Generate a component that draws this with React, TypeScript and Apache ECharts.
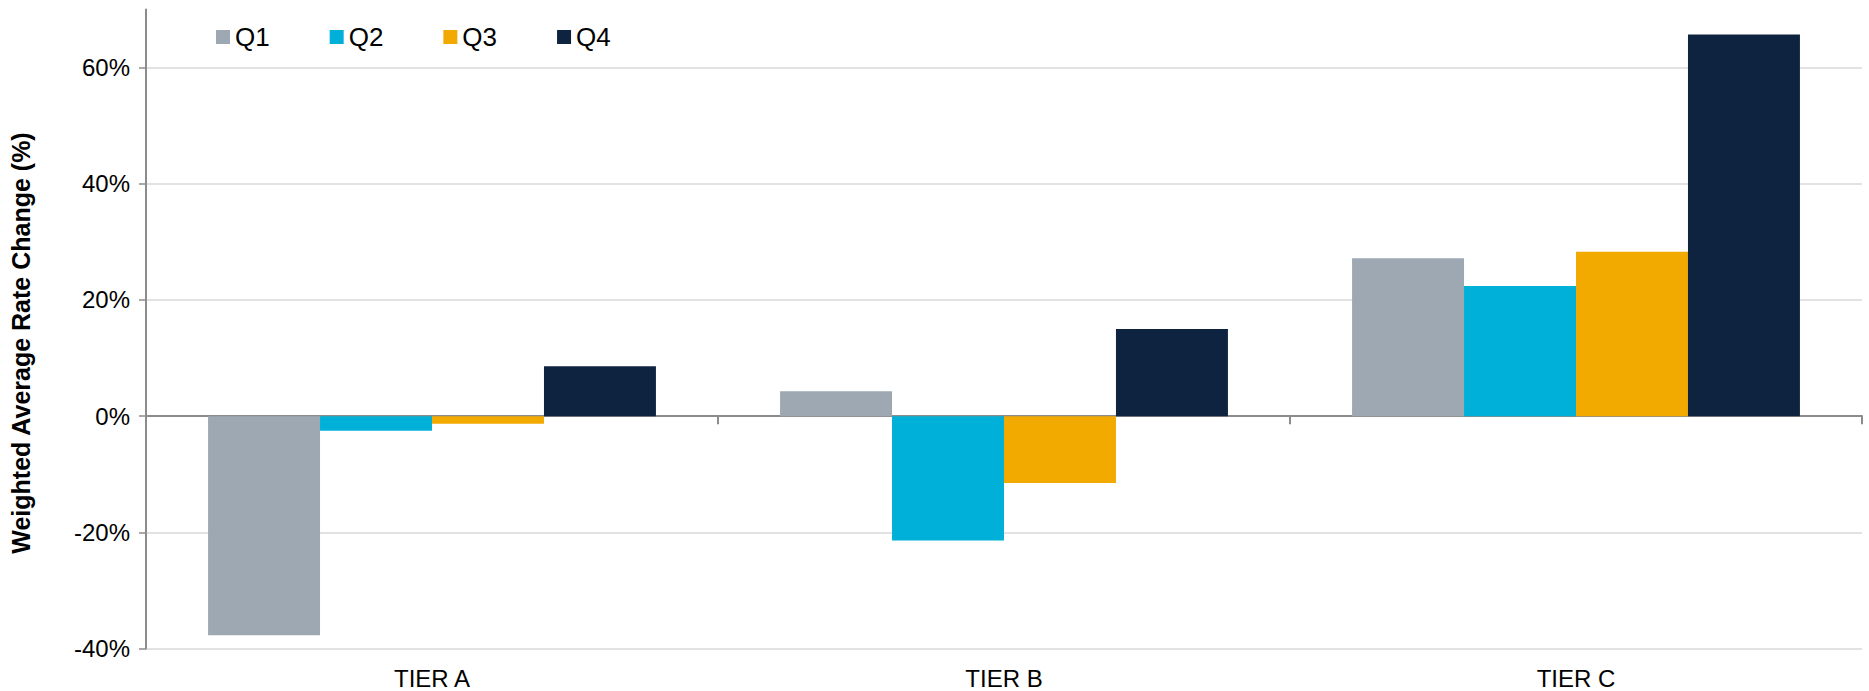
import React, { useEffect, useRef } from "react";
import * as echarts from "echarts";

const categories = ["TIER A", "TIER B", "TIER C"];
const seriesNames = ["Q1", "Q2", "Q3", "Q4"];
const q1 = [-37.7, 4.3, 27.2];
const q2 = [-2.5, -21.4, 22.4];
const q3 = [-1.3, -11.5, 28.3];
const q4 = [8.6, 15.0, 65.7];
const colors = ["#9ea8b2", "#00b0d8", "#f2a900", "#0e2340"];
const yTitle = "Weighted Average Rate Change (%)";

const FONT = "'Liberation Sans', Arial, sans-serif";

export default function App() {
  const ref = useRef<HTMLDivElement>(null);
  useEffect(() => {
    document.body.style.margin = "0";
    if (!ref.current) return;
    const chart = echarts.init(ref.current, undefined, { renderer: "svg" });
    const values = [q1, q2, q3, q4];
    chart.setOption({
      animation: false,
      backgroundColor: "#ffffff",
      textStyle: { fontFamily: FONT },
      grid: { left: 146, right: 7, top: 9.5, bottom: 42.5, containLabel: false },
      legend: {
        left: 216,
        top: 24,
        padding: 0,
        itemWidth: 14,
        itemHeight: 14,
        itemGap: 60,
        icon: "rect",
        textStyle: { fontSize: 26, color: "#000", fontFamily: FONT },
        data: seriesNames,
      },
      xAxis: [
        {
          type: "category",
          data: categories,
          position: "bottom",
          axisLine: { onZero: true, lineStyle: { color: "#8c8c8c", width: 2 } },
          axisTick: { show: true, length: 8, lineStyle: { color: "#8c8c8c", width: 2 } },
          axisLabel: { show: false },
          splitLine: { show: false },
        },
        {
          type: "category",
          data: categories,
          position: "bottom",
          axisLine: { show: false, onZero: false },
          axisTick: { show: false },
          axisLabel: { show: true, margin: 18, fontSize: 24, color: "#000", fontFamily: FONT },
          splitLine: { show: false },
        },
      ],
      yAxis: {
        type: "value",
        min: -40,
        max: 70,
        interval: 20,
        axisLine: { show: true, lineStyle: { color: "#8c8c8c", width: 2 } },
        axisTick: { show: true, length: 7, lineStyle: { color: "#8c8c8c", width: 1.5 } },
        axisLabel: {
          margin: 16,
          fontSize: 24,
          color: "#000",
          fontFamily: FONT,
          showMaxLabel: false,
          formatter: (v: number) => (v === 70 ? "" : `${v}%`),
        },
        splitLine: { show: true, showMaxLine: false, lineStyle: { color: "#d9d9d9", width: 1.5 } },
      },
      graphic: [
        {
          type: "text",
          x: 21,
          y: 343,
          rotation: Math.PI / 2,
          style: {
            text: yTitle,
            font: `bold 25px ${FONT}`,
            fill: "#000",
            textAlign: "center",
            textVerticalAlign: "middle",
          },
        },
      ],
      series: seriesNames.map((name, i) => ({
        name,
        type: "bar",
        xAxisIndex: 0,
        data: values[i],
        barGap: "0%",
        barCategoryGap: "21.7%",
        itemStyle: { color: colors[i] },
      })),
    });
    return () => chart.dispose();
  }, []);
  return <div ref={ref} style={{ width: 1869, height: 691 }} />;
}
